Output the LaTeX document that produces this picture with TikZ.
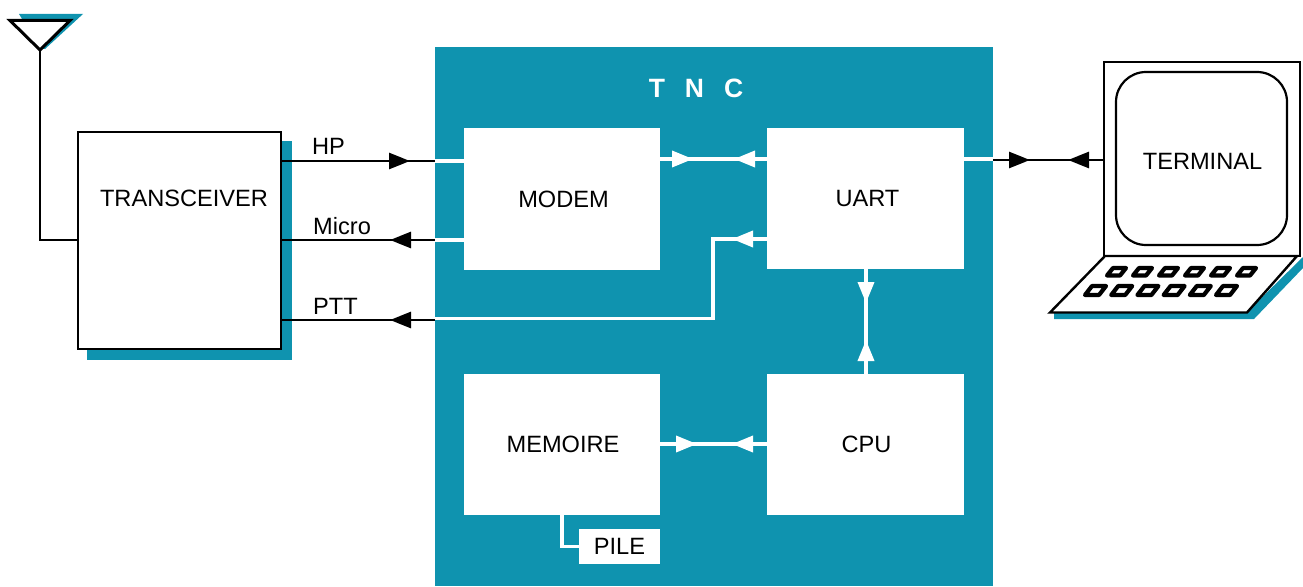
\documentclass[tikz,border=0pt]{standalone}
\usepackage{fontspec}
\setmainfont{Liberation Sans}
\usetikzlibrary{arrows.meta,decorations.markings,calc}
\definecolor{teal}{HTML}{0F93AF}
\newcommand{\lblfont}{\fontsize{23.6}{26}\selectfont}
\tikzset{
  >={Triangle[length=21pt,width=16pt]},
  lbl/.style={font=\lblfont,text=black,inner sep=0pt},
  whitebox/.style={fill=white,draw=none,inner sep=0pt,outer sep=0pt,font=\lblfont,text=black},
  blackline/.style={draw=black,line width=2.7pt},
  whiteline/.style={draw=white,line width=3.6pt},
  tipfwd/.style={postaction={decorate,decoration={markings,mark=at position #1pt with {\arrow{>}}}}},
  tiprev/.style={postaction={decorate,decoration={markings,mark=at position #1pt with {\arrowreversed{>}}}}},
}
\begin{document}
\begin{tikzpicture}[x=1pt,y=-1pt]
\useasboundingbox (0,0) rectangle (1303,586);
% TNC panel and its blocks
\node[fill=teal,inner sep=0pt,outer sep=0pt,minimum width=558,minimum height=539] (tnc) at (714,316.5) {};
\node[inner sep=0pt,text=white,font=\fontsize{26.5}{30}\bfseries\selectfont] (tnclabel) at (696,88) {\spaceskip=20pt T N C};
\node[whitebox,minimum width=196,minimum height=142] (modem) at (562,199) {\hspace*{3pt}MODEM};
\node[whitebox,minimum width=197,minimum height=141] (uart) at (865.5,198.5) {\hspace*{4pt}UART};
\node[whitebox,minimum width=196,minimum height=141] (mem) at (562,444.5) {\hspace*{2pt}MEMOIRE};
\node[whitebox,minimum width=197,minimum height=141] (cpu) at (865.5,444.5) {\hspace*{2pt}CPU};
\node[whitebox,minimum width=81,minimum height=35] (pile) at (619.5,546.5) {PILE};
% Transceiver
\fill[teal] (87,141) rectangle (292,360);
\node[draw=black,line width=2.6pt,fill=white,inner sep=0pt,outer sep=0pt,minimum width=203,minimum height=217] (xcvr) at (179.5,240.5) {};
\node[lbl] (xcvrlabel) at (184,198.5) {TRANSCEIVER};
% Antenna
\fill[teal] (19,14) -- (83,14) -- (45,49) -- (40,49) -- cycle;
\coordinate (anttip) at (40,50);
\coordinate (antbend) at (40,240);
\draw[black,line width=3pt,line join=miter,fill=white] (10,20.5) -- (70,20.5) -- (anttip) -- cycle;
\draw[blackline] (anttip) -- (antbend) -- (xcvr.west |- antbend);
% Terminal
\fill[teal] (1054,312) -- (1247,312) -- (1303,257) -- (1303,268) -- (1254,319) -- (1054,319) -- cycle;
\node[draw=black,line width=2.6pt,fill=white,inner sep=0pt,outer sep=0pt,minimum width=196,minimum height=194] (term) at (1202,159) {};
\draw[black,line width=2.4pt,fill=white] (1050,312.5) -- (1105,256) -- (1297,256) -- (1247,312.5) -- cycle;
\node[draw=black,line width=2.2pt,fill=white,rounded corners=30pt,inner sep=0pt,outer sep=0pt,minimum width=171,minimum height=173] (screen) at (1201.5,158.5) {};
\node[lbl] (termlabel) at (1202.5,161) {TERMINAL};
% Keys
\foreach \i in {0,...,5}{
  \draw[black,line width=4.2pt,line join=round,fill=white,xshift=26*\i]
    (1113,268) -- (1126,268) -- (1120,275.5) -- (1107,275.5) -- cycle;
  \draw[black,line width=4.2pt,line join=round,fill=white,xshift=26.2*\i]
    (1092,286) -- (1106,286) -- (1099,295) -- (1085,295) -- cycle;
}
% Rows of the connectors
\coordinate (hp) at (0,161);
\coordinate (mic) at (0,240);
\coordinate (ptt) at (0,320);
\coordinate (pttw) at (0,318.5);
\coordinate (busa) at (0,159);
\coordinate (busb) at (0,239);
\coordinate (busc) at (0,444);
\coordinate (pttx) at (713,0);
\coordinate (uartx) at (866,0);
\coordinate (pilex) at (562,0);
% Black connectors
\draw[blackline,tipfwd=129] (xcvr.east |- hp) -- (tnc.west |- hp);
\draw[blackline,tiprev=109] (xcvr.east |- mic) -- (tnc.west |- mic);
\draw[blackline,tiprev=109] (xcvr.east |- ptt) -- (tnc.west |- ptt);
\draw[blackline,tipfwd=37,tiprev=75] (tnc.east |- 0,160) -- (term.west |- 0,160);
\node[lbl,anchor=west] (hplabel) at (312,146) {HP};
\node[lbl,anchor=west] (miclabel) at (313,226) {Micro};
\node[lbl,anchor=west] (pttlabel) at (313,306) {PTT};
% White connectors
\draw[whiteline] (tnc.west |- hp) -- (modem.west |- hp);
\draw[whiteline] (tnc.west |- mic) -- (modem.west |- mic);
\draw[whiteline,tipfwd=33,tiprev=74] (modem.east |- busa) -- (uart.west |- busa);
\draw[whiteline,tipfwd=37,tiprev=72] (mem.east |- busc) -- (cpu.west |- busc);
\draw[whiteline,tipfwd=34,tiprev=71] (uart.south -| uartx) -- (cpu.north -| uartx);
\draw[whiteline,line join=miter,tipfwd=35] (uart.west |- busb) -- (pttx |- busb) -- (pttx |- pttw) -- (tnc.west |- pttw);
\draw[whiteline] (uart.east |- busa) -- (tnc.east |- busa);
\draw[whiteline,line join=miter] (mem.south -| pilex) -- (pilex |- pile.west) -- (pile.west);
\end{tikzpicture}
\end{document}
